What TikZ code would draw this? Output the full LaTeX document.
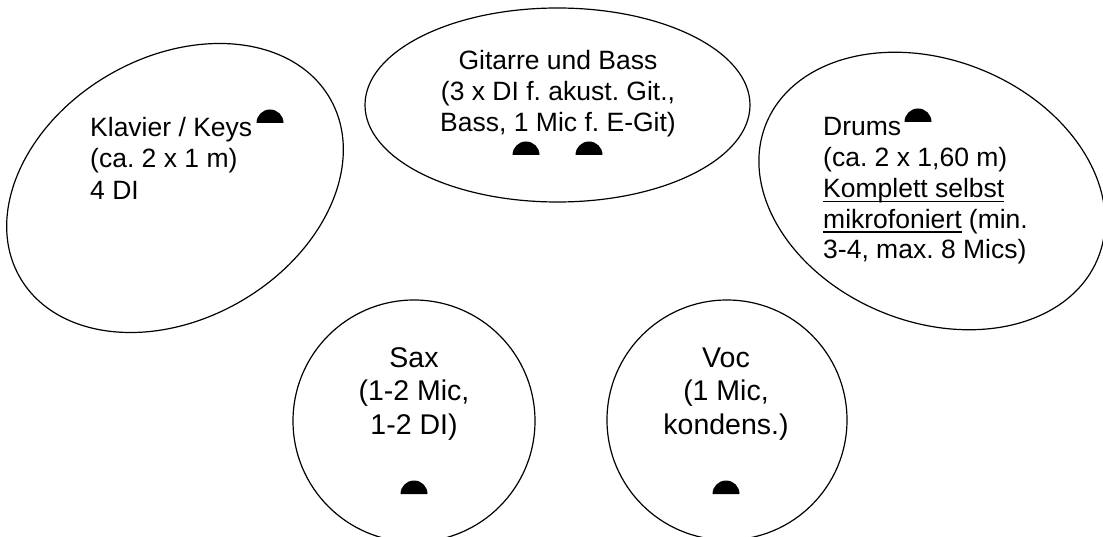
\documentclass[tikz,border=0pt]{standalone}
\usepackage{fontspec}
\setmainfont{Liberation Sans}
\frenchspacing
\usetikzlibrary{shapes.geometric}
\newcommand\myul[1]{\setbox0\hbox{#1}\rlap{\rule[-4.3pt]{\wd0}{1.4pt}}\box0{}}
\tikzset{
  area/.style={draw, line width=1.2pt, inner sep=0pt},
  lbl/.style={inner sep=0pt, font=\fontsize{26.5}{31}\selectfont},
  clbl/.style={inner sep=0pt, font=\fontsize{28.5}{33}\selectfont},
  mic/.pic={\fill (-13.5pt,0pt) arc[start angle=180,end angle=0,radius=13.5pt] -- cycle;}
}
\begin{document}
\frenchspacing
\begin{tikzpicture}[x=1pt,y=1pt]
\clip (0,0) rectangle (1103,536);
\fill[white] (0,0) rectangle (1103,536);
% areas
\node[area, ellipse, minimum width=358pt, minimum height=262pt, rotate=30] (klavier) at (175,348) {};
\node[area, ellipse, minimum width=385pt, minimum height=194pt] (gitarre) at (557.5,431) {};
\node[area, ellipse, minimum width=358pt, minimum height=262pt, rotate=-22] (drums) at (932,345) {};
\node[area, circle, minimum size=242pt] (sax) at (414,115) {};
\node[area, circle, minimum size=240pt] (voc) at (727,116) {};
% Klavier
\node[lbl, anchor=base west] (k1) at (90,399.3) {Klavier / Keys};
\node[lbl, anchor=base west] (k2) at (90,368) {(ca. 2 x 1 m)};
\node[lbl, anchor=base west] (k3) at (90,336.7) {4 DI};
\pic (mk) at (270,413) {mic};
% Gitarre
\node[lbl, anchor=base] (g1) at (558,466.5) {Gitarre und Bass};
\node[lbl, anchor=base] (g2) at (558,435.5) {(3 x DI f. akust. Git.,};
\node[lbl, anchor=base] (g3) at (558,404.5) {Bass, 1 Mic f. E-Git)};
\pic (mg1) at (526,381) {mic};
\pic (mg2) at (589,381) {mic};
% Drums
\node[lbl, anchor=base west] (d1) at (823,400) {Drums};
\node[lbl, anchor=base west] (d2) at (823,369) {(ca. 2 x 1,60 m)};
\node[lbl, anchor=base west] (d3) at (823,338) {\myul{Komplett selbst}};
\node[lbl, anchor=base west] (d4) at (823,307.5) {\myul{mikrofoniert} (min.};
\node[lbl, anchor=base west] (d5) at (823,277) {3-4, max. 8 Mics)};
\pic (md) at (918,414) {mic};
% Sax
\node[clbl, anchor=base] (s1) at (414,168.3) {Sax};
\node[clbl, anchor=base] (s2) at (414,135.5) {(1-2 Mic,};
\node[clbl, anchor=base] (s3) at (414,102) {1-2 DI)};
\pic (ms) at (414,42) {mic};
% Voc
\node[clbl, anchor=base] (v1) at (726,168.3) {Voc};
\node[clbl, anchor=base] (v2) at (726,135.5) {(1 Mic,};
\node[clbl, anchor=base] (v3) at (726,102) {kondens.)};
\pic (mv) at (726,42) {mic};
\end{tikzpicture}
\end{document}
